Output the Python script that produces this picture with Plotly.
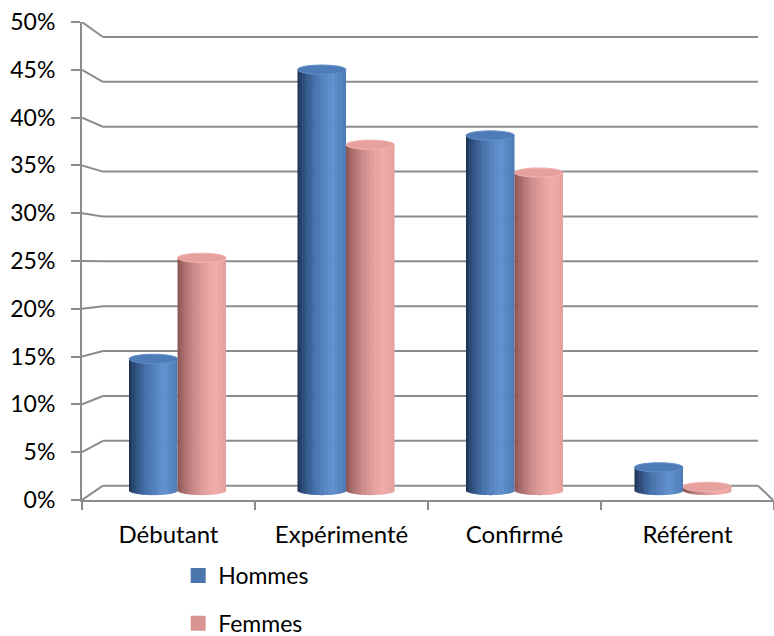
import numpy as np
import plotly.graph_objects as go

# ---- data -------------------------------------------------------------
categories = ["Débutant", "Expérimenté", "Confirmé", "Référent"]
hommes = [14.2, 45.4, 38.3, 2.5]
femmes = [25.1, 37.3, 34.3, 0.4]
y_ticks = list(range(0, 55, 5))
y_tick_labels = [f"{v}%" for v in y_ticks]

# ---- style ------------------------------------------------------------
FONT = "Lato, Calibri, 'DejaVu Sans', sans-serif"
GRID = "#8c8c8c"
BLUE_LEG = "#4a76ad"
PINK_LEG = "#d99594"

# horizontal shading across a cylinder (position 0..1 -> colour)
BLUE_STOPS = [(0.0, "#1c3050"), (0.1, "#2b4a78"), (0.35, "#4672aa"),
              (0.6, "#5a89c6"), (0.72, "#6292cf"), (0.86, "#5685c2"),
              (1.0, "#4f7cb7")]
PINK_STOPS = [(0.0, "#87504f"), (0.1, "#a36867"), (0.35, "#cc8c8b"),
              (0.6, "#e6a2a0"), (0.76, "#f1aba9"), (0.88, "#eca6a4"),
              (1.0, "#e4a09e")]
BLUE_TOP, BLUE_TOP_EDGE = "#4d7cb8", "#6590c9"
PINK_TOP, PINK_TOP_EDGE = "#e6a09e", "#f2b4b2"


def hex_rgb(h):
    h = h.lstrip("#")
    return np.array([int(h[i:i + 2], 16) for i in (0, 2, 4)], float)


def shade(stops, t):
    for (t0, c0), (t1, c1) in zip(stops[:-1], stops[1:]):
        if t0 <= t <= t1:
            f = (t - t0) / (t1 - t0)
            c = hex_rgb(c0) * (1 - f) + hex_rgb(c1) * f
            return "rgb(%d,%d,%d)" % tuple(np.round(c))
    return stops[-1][1]


# ---- 3D frame geometry (front-plane units) ----------------------------
# back wall: rises and shrinks relative to the front plane
BACK_RISE = 1.496
BACK_SCALE = 0.9387
BACK_X0, BACK_X1 = -0.379, 3.408
FLOOR_X1 = 3.494


def back(v):
    return BACK_RISE + BACK_SCALE * v


# bar plane (mid-depth) axis ranges
X2_RANGE = [-0.567, 3.540]
Y2_RANGE = [-1.025, 50.54]
BAR_W = 0.288          # width of one cylinder in bar-plane units
CAP = 0.5              # half height of the elliptical caps (value units)
N_SLICES = 30

fig = go.Figure()

# invisible trace so the front category axis is populated
fig.add_trace(go.Scatter(x=categories, y=[0] * len(categories), mode="none",
                         showlegend=False, hoverinfo="skip"))

xs = list(range(len(categories)))
shapes = []

series = [
    ("Hommes", hommes, BLUE_STOPS, BLUE_TOP, BLUE_TOP_EDGE, -BAR_W),
    ("Femmes", femmes, PINK_STOPS, PINK_TOP, PINK_TOP_EDGE, 0.0),
]
for name, vals, stops, top_col, top_edge, off in series:
    step = BAR_W / N_SLICES
    for k in range(N_SLICES):
        t = (k + 0.5) / N_SLICES
        u = 2 * t - 1
        d = CAP * np.sqrt(max(0.0, 1 - u * u))
        w = step if k == N_SLICES - 1 else step * 1.35
        fig.add_trace(go.Bar(
            x=xs, y=[v + d for v in vals], base=[-d] * len(vals),
            offset=off + k * step, width=w,
            marker=dict(color=shade(stops, t), line=dict(width=0)),
            xaxis="x2", yaxis="y2", showlegend=False, hoverinfo="skip",
        ))
    for i, v in enumerate(vals):
        shapes.append(dict(
            type="circle", xref="x2", yref="y2", layer="above",
            x0=i + off, x1=i + off + BAR_W, y0=v - CAP, y1=v + CAP,
            fillcolor=top_col, line=dict(color=top_edge, width=1),
        ))

# back wall gridlines with their perspective connectors
for g in y_ticks:
    shapes.append(dict(type="line", xref="x", yref="y", layer="below",
                       x0=-0.5, y0=g, x1=BACK_X0, y1=back(g),
                       line=dict(color=GRID, width=2)))
    shapes.append(dict(type="line", xref="x", yref="y", layer="below",
                       x0=BACK_X0, y0=back(g), x1=BACK_X1, y1=back(g),
                       line=dict(color=GRID, width=2)))
# right edge of the floor
shapes.append(dict(type="line", xref="x", yref="y", layer="below",
                   x0=BACK_X1, y0=back(0), x1=FLOOR_X1, y1=0,
                   line=dict(color=GRID, width=2)))

# legend entries
for name, col in [("Hommes", BLUE_LEG), ("Femmes", PINK_LEG)]:
    fig.add_trace(go.Scatter(x=[None], y=[None], mode="markers", name=name,
                             legendgroup=name,
                             marker=dict(symbol="square", size=15, color=col)))

fig.update_layout(
    width=774, height=636,
    margin=dict(l=82, r=0, t=22, b=136, autoexpand=False),
    paper_bgcolor="white", plot_bgcolor="rgba(0,0,0,0)",
    barmode="overlay",
    font=dict(family=FONT, size=24, color="black"),
    shapes=shapes,
    showlegend=True,
    legend=dict(x=0.139, y=-0.113, xanchor="left", yanchor="top",
                traceorder="grouped", tracegroupgap=15,
                font=dict(family=FONT, size=23, color="black"),
                bgcolor="rgba(0,0,0,0)"),
    xaxis=dict(type="category", categoryorder="array",
               categoryarray=categories, range=[-0.5, 3.5],
               showline=True, linecolor=GRID, linewidth=2,
               ticks="outside", tickson="boundaries", ticklen=8,
               tickcolor=GRID, tickwidth=2, showgrid=False, zeroline=False,
               ticklabelstandoff=12, fixedrange=True,
               tickfont=dict(family=FONT, size=24, color="black")),
    yaxis=dict(range=[0, 50], tickvals=y_ticks, ticktext=y_tick_labels,
               showline=True, linecolor=GRID, linewidth=2,
               ticks="outside", ticklen=9, tickcolor=GRID, tickwidth=2,
               showgrid=False, zeroline=False, ticklabelstandoff=11,
               fixedrange=True,
               tickfont=dict(family=FONT, size=23, color="black")),
    xaxis2=dict(overlaying="x", range=X2_RANGE, visible=False,
                fixedrange=True),
    yaxis2=dict(overlaying="y", range=Y2_RANGE, visible=False,
                fixedrange=True),
)

fig.write_html("out.html")
